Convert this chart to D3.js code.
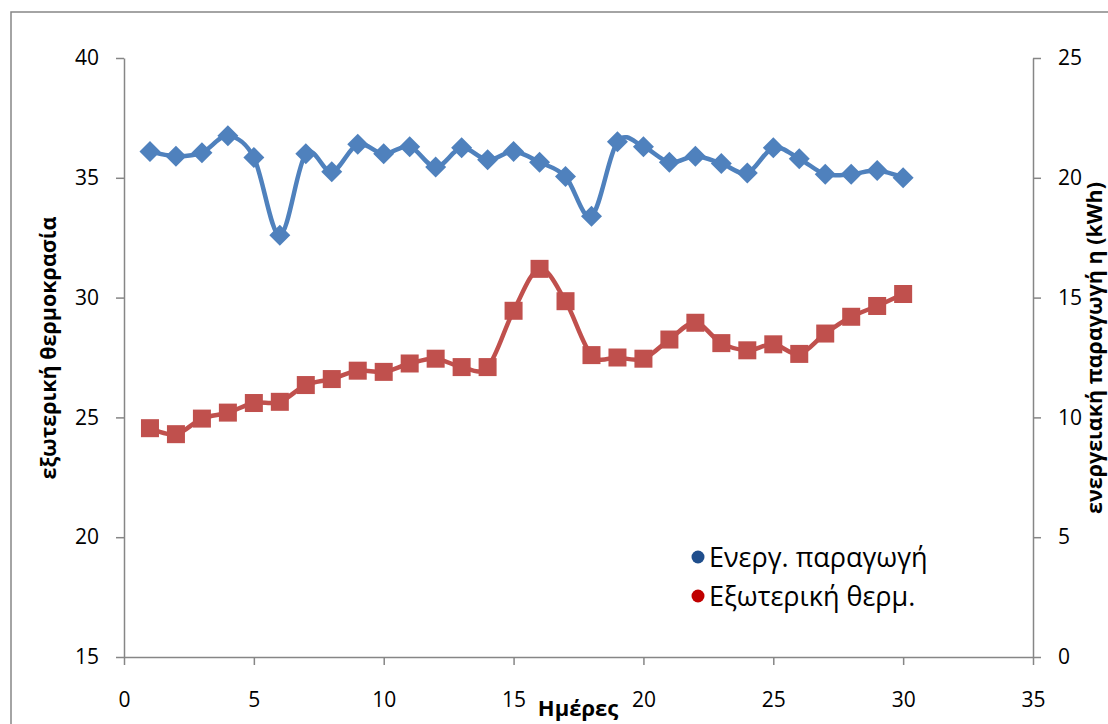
<!DOCTYPE html>
<html>
<head>
<meta charset="utf-8">
<script src="https://cdn.jsdelivr.net/npm/d3@7"></script>
<style>
  html, body { margin: 0; padding: 0; background: #fff; }
  svg { display: block; font-family: "Open Sans", "Noto Sans", sans-serif; }
</style>
</head>
<body>
<svg id="chart" width="1108" height="724"></svg>
<script>
// Days of the month
const days = d3.range(1, 31);

// Daily energy production (kWh), right axis
const energy = [21.1, 20.9, 21.05, 21.75, 20.85, 17.6, 21.0, 20.25, 21.4, 21.0,
                21.3, 20.45, 21.25, 20.75, 21.1, 20.65, 20.05, 18.4, 21.5, 21.3,
                20.65, 20.9, 20.6, 20.2, 21.25, 20.8, 20.15, 20.15, 20.3, 20.0];

// Daily outside temperature, left axis
const temperature = [24.55, 24.3, 24.95, 25.2, 25.6, 25.65, 26.35, 26.6, 26.95, 26.9,
                     27.25, 27.45, 27.1, 27.1, 29.45, 31.2, 29.85, 27.6, 27.5, 27.45,
                     28.25, 28.95, 28.1, 27.8, 28.05, 27.65, 28.5, 29.2, 29.65, 30.15];

const xTicks = [0, 5, 10, 15, 20, 25, 30, 35];
const leftTicks = [15, 20, 25, 30, 35, 40];
const rightTicks = [0, 5, 10, 15, 20, 25];

const seriesNames = ["Ενεργ. παραγωγή", "Εξωτερική θερμ."];
const xTitle = "Ημέρες";
const leftTitle = "εξωτερική θερμοκρασία";
const rightTitle = "ενεργειακή παραγωγή η (kWh)";

(function draw() {
  const svg = d3.select("#chart");
  const axisColor = "#868686";
  const blue = "#4F81BD", red = "#C0504D";

  // Plot area
  const plotL = 124, plotR = 1033, plotT = 58, plotB = 657;

  const x = d3.scaleLinear().domain([0, 35]).range([plotL, plotR]);
  const yL = d3.scaleLinear().domain([15, 40]).range([plotB, plotT]);
  const yR = d3.scaleLinear().domain([0, 25]).range([plotB, plotT]);

  // Outer chart frame
  svg.append("rect")
    .attr("x", 11).attr("y", 12)
    .attr("width", 1130).attr("height", 740)
    .attr("fill", "none").attr("stroke", axisColor).attr("stroke-width", 1.5);

  function styleAxis(g) {
    g.select(".domain").attr("stroke", axisColor).attr("stroke-width", 1.5);
    g.selectAll(".tick line").attr("stroke", axisColor).attr("stroke-width", 1.5);
    g.selectAll(".tick text").attr("fill", "#000").attr("font-size", 21)
      .attr("font-family", "'Open Sans', sans-serif");
  }

  // Left axis
  svg.append("g")
    .attr("transform", `translate(${plotL},0)`)
    .call(d3.axisLeft(yL).tickValues(leftTicks).tickSize(8).tickSizeOuter(0).tickPadding(17))
    .call(styleAxis);

  // Right axis
  svg.append("g")
    .attr("transform", `translate(${plotR},0)`)
    .call(d3.axisRight(yR).tickValues(rightTicks).tickSize(8).tickSizeOuter(0).tickPadding(17))
    .call(styleAxis);

  // Bottom axis
  svg.append("g")
    .attr("transform", `translate(0,${plotB})`)
    .call(d3.axisBottom(x).tickValues(xTicks).tickSize(8).tickSizeOuter(0).tickPadding(27))
    .call(styleAxis);

  // Axis titles
  svg.append("text")
    .attr("transform", `translate(56,348) rotate(-90)`)
    .attr("text-anchor", "middle").attr("font-weight", "bold").attr("font-size", 21.5)
    .text(leftTitle);

  svg.append("text")
    .attr("transform", `translate(1102,348) rotate(-90)`)
    .attr("text-anchor", "middle").attr("font-weight", "bold").attr("font-size", 21.5)
    .text(rightTitle);

  svg.append("text")
    .attr("x", 578).attr("y", 716)
    .attr("text-anchor", "middle").attr("font-weight", "bold").attr("font-size", 22)
    .text(xTitle);

  // Smoothed lines
  const curve = d3.curveCardinal.tension(0);

  svg.append("path")
    .datum(days.map((d, i) => [d, temperature[i]]))
    .attr("fill", "none").attr("stroke", red).attr("stroke-width", 4.5)
    .attr("stroke-linejoin", "round")
    .attr("d", d3.line().x(d => x(d[0])).y(d => yL(d[1])).curve(curve));

  svg.append("path")
    .datum(days.map((d, i) => [d, energy[i]]))
    .attr("fill", "none").attr("stroke", blue).attr("stroke-width", 4.5)
    .attr("stroke-linejoin", "round")
    .attr("d", d3.line().x(d => x(d[0])).y(d => yR(d[1])).curve(curve));

  // Square markers for temperature
  const sq = 18;
  svg.append("g").selectAll("rect")
    .data(days.map((d, i) => [d, temperature[i]]))
    .join("rect")
    .attr("x", d => x(d[0]) - sq / 2).attr("y", d => yL(d[1]) - sq / 2)
    .attr("width", sq).attr("height", sq)
    .attr("fill", red);

  // Diamond markers for energy
  const dm = 10.5;
  svg.append("g").selectAll("path")
    .data(days.map((d, i) => [d, energy[i]]))
    .join("path")
    .attr("transform", d => `translate(${x(d[0])},${yR(d[1])})`)
    .attr("d", `M0,${-dm}L${dm},0L0,${dm}L${-dm},0Z`)
    .attr("fill", blue);

  // Legend
  const legendColors = ["#1F4E8C", "#C00000"];
  const legend = svg.append("g");
  seriesNames.forEach((name, i) => {
    const cy = 557 + i * 39;
    legend.append("circle").attr("cx", 698).attr("cy", cy).attr("r", 6.5).attr("fill", legendColors[i]);
    legend.append("text").attr("x", 709).attr("y", cy + 10)
      .attr("font-size", 27).attr("fill", "#000").text(name);
  });
})();
</script>
</body>
</html>
